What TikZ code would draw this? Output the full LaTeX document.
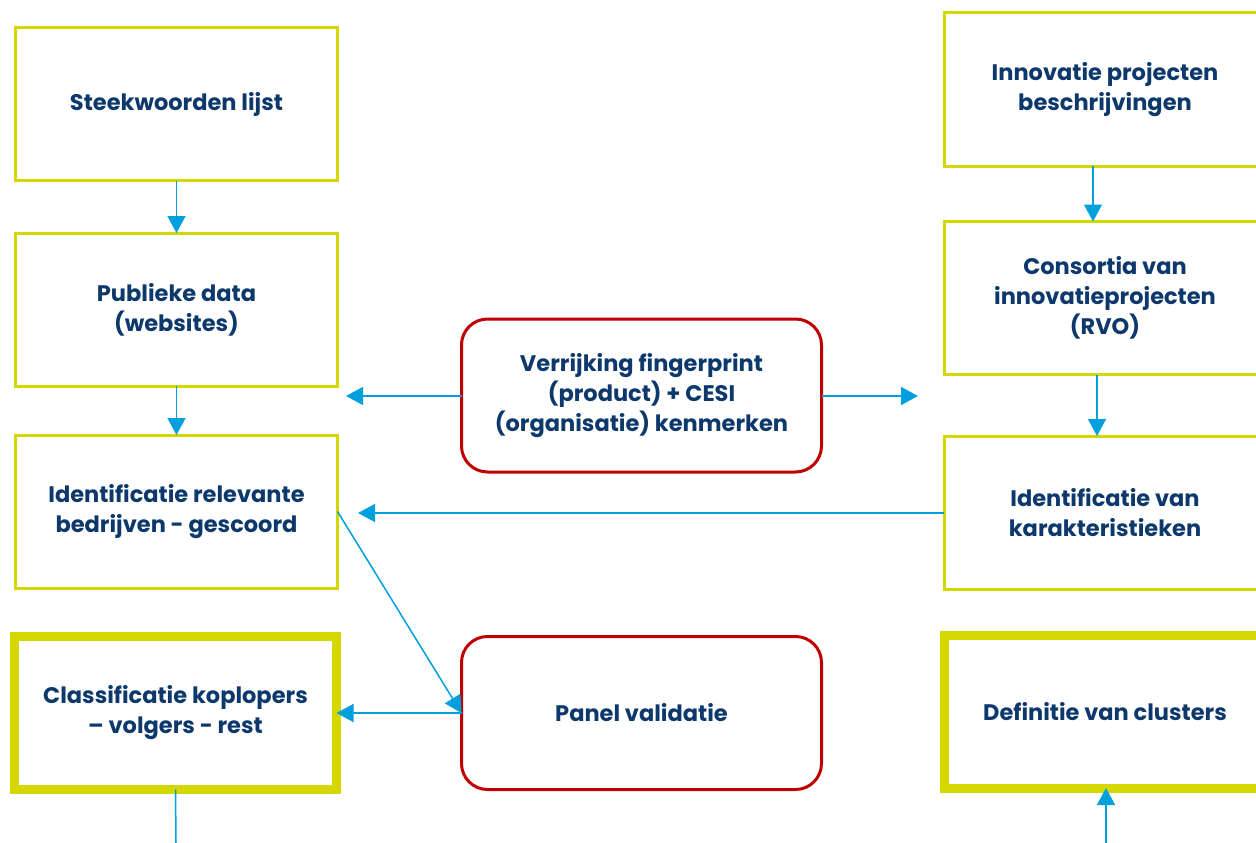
\documentclass[tikz,border=0pt]{standalone}
\usepackage{fontspec}
\setmainfont{Poppins}
\usetikzlibrary{arrows.meta}
\definecolor{lime}{RGB}{212,216,0}
\definecolor{darkred}{RGB}{192,0,0}
\definecolor{arrowblue}{RGB}{0,160,222}
\definecolor{navy}{RGB}{12,56,108}
\begin{document}
\begin{tikzpicture}[x=1pt, y=-1pt, thick,
    box/.style = {draw=lime, line width=3pt, minimum width=322pt, minimum height=153pt, inner sep=0pt, outer sep=0pt, align=center, text=navy, font=\fontsize{22.5}{30}\selectfont\bfseries},
    thickbox/.style = {box, line width=9pt},
    redbox/.style = {box, draw=darkred, rounded corners=26pt, minimum width=360pt},
    arr/.style = {draw=arrowblue, line width=1.5pt, -{Triangle[length=17pt, width=18pt]}}]
    \useasboundingbox (0,0) rectangle (1256,843);
    % left column
    \node[box] (steek) at (176.5,104) {Steekwoorden lijst};
    \node[box] (publ) at (176.5,309.5) {Publieke data\\(websites)};
    \node[box] (ident) at (176.5,511.5) {Identificatie relevante\\bedrijven - gescoord};
    \node[thickbox] (class) at (175.5,713) {Classificatie koplopers\\– volgers - rest};
    % right column
    \node[box] (innov) at (1105,89.5) {Innovatie projecten\\beschrijvingen};
    \node[box] (cons) at (1105,298) {Consortia van\\innovatieprojecten\\(RVO)};
    \node[box] (kar) at (1105,512.5) {Identificatie van\\karakteristieken};
    \node[thickbox] (def) at (1105,711.5) {Definitie van clusters};
    % middle
    \node[redbox] (verr) at (641.5,395.5) {Verrijking fingerprint\\(product) + CESI\\(organisatie) kenmerken};
    \node[redbox] (panel) at (641.5,713) {Panel validatie};
    % loose ends
    \coordinate (vl) at (346,396);
    \coordinate (vr) at (918,396);
    \coordinate (kl) at (358,513);
    \coordinate (lb) at (176,843);
    \coordinate (rb) at (1106,843);
    % connectors
    \draw[arr] (steek) -- (publ);
    \draw[arr] (publ) -- (ident);
    \draw[draw=arrowblue, line width=1.5pt] (class.south) -- (lb);
    \draw[arr] ([xshift=-12pt]innov.south) -- ([xshift=-12pt]cons.north);
    \draw[arr] ([xshift=-8pt]cons.south) -- ([xshift=-8pt]kar.north);
    \draw[arr] (rb) -- ([xshift=1pt]def.south);
    \draw[arr] (verr.west |- vl) -- (vl);
    \draw[arr] (verr.east |- vr) -- (vr);
    \draw[arr] (kar.west |- kl) -- (kl);
    \draw[arr] (ident.east) -- (panel.west);
    \draw[arr] (panel.west) -- (class.east);
\end{tikzpicture}
\end{document}
